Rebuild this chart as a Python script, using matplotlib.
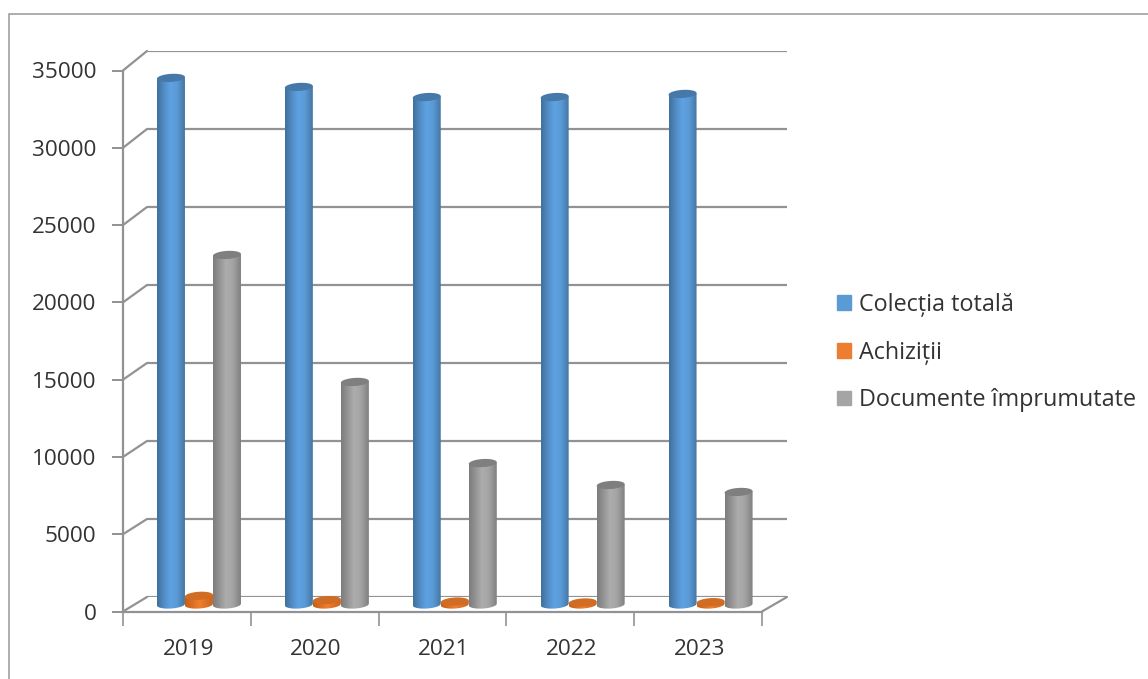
import numpy as np
import matplotlib
matplotlib.use("Agg")
import matplotlib.pyplot as plt
from matplotlib.colors import LinearSegmentedColormap
from matplotlib.patches import ConnectionPatch, Patch, PathPatch, Polygon, Rectangle
from matplotlib.path import Path

plt.rcParams["font.family"] = ["Open Sans", "DejaVu Sans"]

#Datos
years = ["2019", "2020", "2021", "2022", "2023"]
colectia = [33880, 33300, 32650, 32650, 32850]
achizitii = [560, 280, 190, 130, 150]
imprumutate = [22490, 14320, 9100, 7690, 7240]
y_ticks = [0, 5000, 10000, 15000, 20000, 25000, 30000, 35000]

W, H = 1148, 679
GRID = "#929292"
TEXT = "#333333"
BAR_W = 0.219
CAP = 520  # alto de la elipse, en unidades del eje y
TILT = 500  # inclinacion de la elipse, unidades y por unidad x

fig = plt.figure(figsize=(W / 100, H / 100), dpi=100)


def axes_px(left, right, bottom, top, z):
    a = fig.add_axes([left / W, 1 - bottom / H, (right - left) / W, (bottom - top) / H], zorder=z)
    a.set_xlim(0, 5)
    a.set_ylim(0, 35000)
    a.patch.set_alpha(0)
    return a


#Tres planos: pared del fondo, plano frontal y plano de las barras
back = axes_px(147, 787, 597, 51, 1)
front = axes_px(123, 762, 611.5, 70.5, 2)
mid = axes_px(135, 774.5, 604.5, 60.5, 3)

for s in back.spines.values():
    s.set_visible(False)
back.set_xticks([])
back.set_yticks(y_ticks)
back.tick_params(left=False, labelleft=False)
back.grid(axis="y", color=GRID, lw=1.6)
back.set_axisbelow(True)

for s in ["top", "right"]:
    front.spines[s].set_visible(False)
for s in ["left", "bottom"]:
    front.spines[s].set_color(GRID)
    front.spines[s].set_linewidth(1.6)
front.set_yticks(y_ticks)
front.set_xticks(range(6))
front.set_xticklabels([])
front.set_xticks(np.arange(5) + 0.51, labels=years, minor=True)
front.tick_params(axis="y", length=8, width=1.4, color=GRID, labelsize=16.2, labelcolor=TEXT, pad=11)
front.tick_params(axis="x", which="major", length=10, width=1.2, color=GRID)
front.tick_params(axis="x", which="minor", length=0, labelsize=16.2, labelcolor=TEXT, pad=20)

mid.axis("off")

#Lineas diagonales de las paredes
for v in y_ticks:
    fig.add_artist(ConnectionPatch((0, v), (0, v), "data", "data", axesA=front, axesB=back,
                                   color=GRID, lw=1.6, zorder=1.5))
fig.add_artist(ConnectionPatch((5, 0), (5, 0), "data", "data", axesA=front, axesB=back,
                               color=GRID, lw=1.6, zorder=1.5))


def draw_bar(center, value, stops, cap_color):
    left, right = center - BAR_W / 2, center + BAR_W / 2
    t = np.linspace(np.pi, 2 * np.pi, 40)
    dx = BAR_W / 2 * np.cos(t)
    low_y = CAP / 2 * np.sin(t) + TILT * dx
    xs = np.concatenate([center + dx, [right, left, left]])
    ys = np.concatenate([low_y, [value + TILT * BAR_W / 2, value - TILT * BAR_W / 2, low_y[0]]])
    codes = [Path.MOVETO] + [Path.LINETO] * (len(xs) - 2) + [Path.CLOSEPOLY]
    body = PathPatch(Path(np.column_stack([xs, ys]), codes), transform=mid.transData,
                     fc="none", ec="none", clip_on=False)
    mid.add_patch(body)
    cmap = LinearSegmentedColormap.from_list("bar", stops)
    im = mid.imshow(np.linspace(0, 1, 128).reshape(1, -1), cmap=cmap, aspect="auto",
                    extent=(left, right, -CAP, value + CAP), zorder=3, interpolation="bilinear")
    im.set_clip_path(body)
    im.set_clip_box(fig.bbox)
    #Tapa superior
    u = np.linspace(0, 2 * np.pi, 60)
    cap_dx = BAR_W / 2 * np.cos(u)
    cap_y = value + CAP / 2 * np.sin(u) + TILT * cap_dx
    mid.add_patch(Polygon(np.column_stack([center + cap_dx, cap_y]), fc=cap_color, ec="none",
                          zorder=4, clip_on=False))


blue = [(0, "#40709c"), (0.2, "#4f88bd"), (0.45, "#5ea2e2"), (0.7, "#5a9ad6"), (1, "#41719c")]
orange = [(0, "#c55f16"), (0.5, "#f07f2e"), (1, "#c8621a")]
gray = [(0, "#7c7c7c"), (0.2, "#919191"), (0.45, "#adadad"), (0.7, "#a3a3a3"), (1, "#7a7a7a")]

for i in range(len(years)):
    draw_bar(i + 0.5 - BAR_W, colectia[i], blue, "#4679a8")
    draw_bar(i + 0.5, achizitii[i], orange, "#d06c24")
    draw_bar(i + 0.5 + BAR_W, imprumutate[i], gray, "#7f7f7f")
mid.set_xlim(0, 5)
mid.set_ylim(0, 35000)

#Leyenda
handles = [Patch(color="#5b9bd5"), Patch(color="#ed7d31"), Patch(color="#a5a5a5")]
labels = ["Colecția totală", "Achiziții", "Documente împrumutate"]
fig.legend(handles, labels, loc="center left", bbox_to_anchor=(837 / W, 1 - 352.5 / H),
           frameon=False, fontsize=16.8, labelcolor=TEXT, handlelength=0.6, handleheight=0.6,
           handletextpad=0.34, labelspacing=1.02, borderpad=0, borderaxespad=0)

#Marco del grafico
fig.add_artist(Rectangle((9 / W, -0.1), 1.2, 1.1 - 14 / H, transform=fig.transFigure,
                         fc="none", ec="#a0a0a0", lw=1.2))

fig.savefig("out.png", dpi=100)
